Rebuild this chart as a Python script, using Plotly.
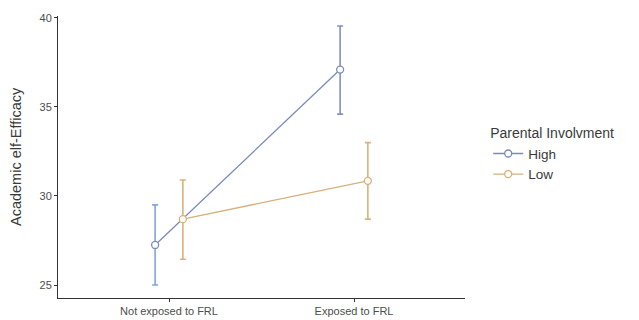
import plotly.graph_objects as go

categories = ["Not exposed to FRL", "Exposed to FRL"]
groups = ["High", "Low"]
means = {"High": [27.25, 37.1], "Low": [28.7, 30.85]}
upper = {"High": [29.5, 39.55], "Low": [30.9, 33.0]}
lower = {"High": [25.0, 34.6], "Low": [26.45, 28.7]}
colors = {"High": "#7b89bd", "Low": "#d6b07c"}
err_colors = {"High": ["#82a6d8", "#8490c2"], "Low": ["#dcb27a", "#d6b47e"]}
dodge = {"High": -0.075, "Low": 0.075}
y_title = "Academic elf-Efficacy"
legend_title = "Parental Involvment"

fig = go.Figure()
for g in groups:
    m = means[g]
    for i in range(len(categories)):
        fig.add_trace(go.Scatter(
            x=[i + dodge[g]], y=[m[i]], mode="markers", showlegend=False,
            marker=dict(size=1, opacity=0), hoverinfo="skip",
            error_y=dict(type="data", symmetric=False,
                         array=[upper[g][i] - m[i]], arrayminus=[m[i] - lower[g][i]],
                         color=err_colors[g][i], thickness=1.6, width=3),
        ))
for g in groups:
    xs = [i + dodge[g] for i in range(len(categories))]
    fig.add_trace(go.Scatter(
        x=xs, y=means[g], mode="lines+markers", name=g,
        line=dict(color=colors[g], width=1.3),
        marker=dict(symbol="circle", size=7, color="white",
                    line=dict(color=colors[g], width=1.3)),
    ))

fig.update_layout(
    width=631, height=312,
    margin=dict(l=50, r=174, t=8, b=22, autoexpand=False),
    paper_bgcolor="white", plot_bgcolor="white",
    font=dict(family="Liberation Sans, Arial, sans-serif", color="#4d4d4d"),
    legend=dict(title=dict(text=legend_title, font=dict(size=14, color="#3a3a3a")),
                font=dict(size=13.5, color="#3a3a3a"), x=1.057, y=0.507, xanchor="left",
                yanchor="middle", tracegroupgap=0, itemwidth=30),
    showlegend=True,
    annotations=[dict(text=y_title, textangle=-90, xref="paper", yref="paper",
                      x=0, y=0.5, xshift=-42, xanchor="center", yanchor="middle",
                      showarrow=False, font=dict(size=14.5, color="#3a3a3a"))],
)
fig.update_xaxes(range=[-0.6, 1.6], tickvals=[0, 1], ticktext=categories,
                 showgrid=False, zeroline=False, showline=True, linecolor="#333",
                 linewidth=1, ticks="outside", ticklen=3, tickcolor="#333",
                 tickfont=dict(size=11, color="#4d4d4d"), automargin=False)
fig.update_yaxes(range=[24.27, 40.11], tickvals=[25, 30, 35, 40],
                 showgrid=False, zeroline=False, showline=True, linecolor="#333",
                 linewidth=1, ticks="outside", ticklen=3, tickcolor="#333",
                 tickfont=dict(size=11, color="#4d4d4d"), automargin=False)

fig.write_html("out.html")
